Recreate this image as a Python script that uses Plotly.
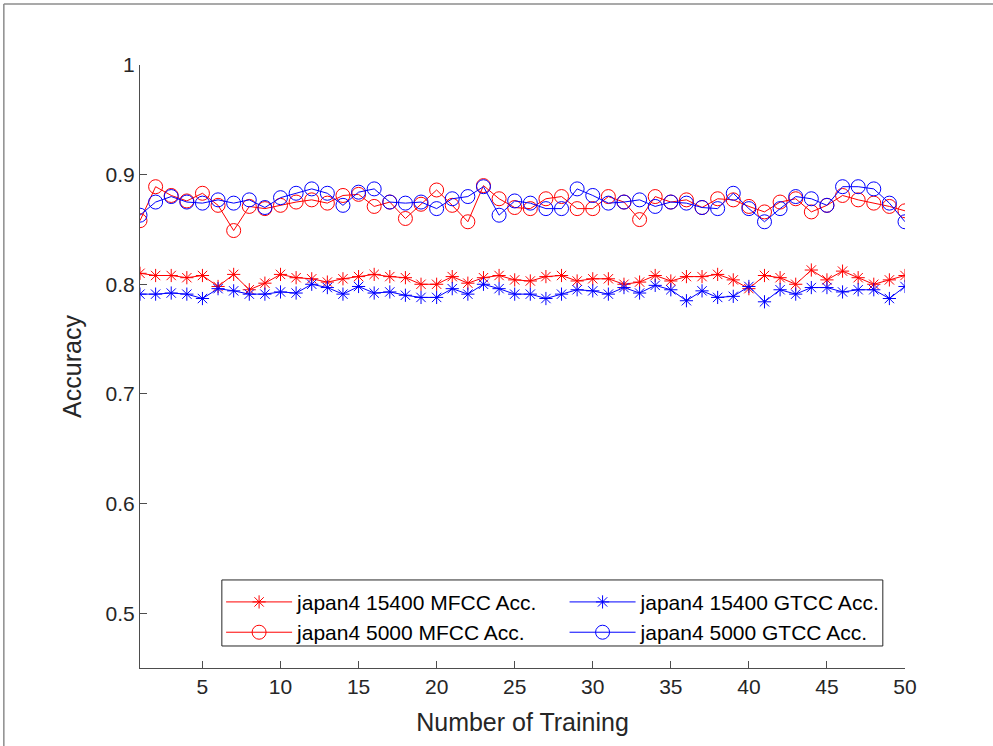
import plotly.graph_objects as go

# Training run index
runs = list(range(1, 51))

# Accuracy per training run
mfcc_15400 = [0.810, 0.808, 0.808, 0.806, 0.808, 0.798, 0.809, 0.795, 0.801, 0.809,
              0.806, 0.805, 0.802, 0.805, 0.807, 0.809, 0.807, 0.806, 0.800, 0.800,
              0.807, 0.801, 0.806, 0.808, 0.804, 0.803, 0.807, 0.808, 0.803, 0.805,
              0.805, 0.800, 0.802, 0.808, 0.803, 0.807, 0.807, 0.809, 0.804, 0.796,
              0.808, 0.806, 0.800, 0.813, 0.804, 0.812, 0.806, 0.800, 0.804, 0.808]
gtcc_15400 = [0.791, 0.791, 0.792, 0.791, 0.787, 0.796, 0.794, 0.791, 0.791, 0.793,
              0.792, 0.800, 0.797, 0.791, 0.798, 0.792, 0.793, 0.790, 0.788, 0.788,
              0.796, 0.791, 0.800, 0.796, 0.791, 0.791, 0.787, 0.791, 0.795, 0.794,
              0.791, 0.797, 0.792, 0.799, 0.795, 0.785, 0.794, 0.788, 0.789, 0.798,
              0.784, 0.795, 0.791, 0.797, 0.797, 0.793, 0.795, 0.795, 0.787, 0.798]
mfcc_5000 = [0.858, 0.889, 0.881, 0.876, 0.883, 0.872, 0.849, 0.871, 0.869, 0.872,
             0.875, 0.877, 0.874, 0.881, 0.882, 0.871, 0.875, 0.860, 0.873, 0.886,
             0.872, 0.857, 0.890, 0.878, 0.870, 0.869, 0.878, 0.880, 0.869, 0.869,
             0.880, 0.875, 0.859, 0.880, 0.875, 0.877, 0.870, 0.878, 0.877, 0.871,
             0.866, 0.875, 0.878, 0.866, 0.872, 0.881, 0.877, 0.874, 0.871, 0.867]
gtcc_5000 = [0.863, 0.875, 0.880, 0.875, 0.874, 0.877, 0.874, 0.877, 0.870, 0.879,
             0.883, 0.887, 0.883, 0.872, 0.884, 0.887, 0.875, 0.874, 0.875, 0.869,
             0.878, 0.880, 0.889, 0.863, 0.876, 0.874, 0.869, 0.869, 0.887, 0.881,
             0.874, 0.875, 0.877, 0.871, 0.875, 0.874, 0.870, 0.869, 0.883, 0.869,
             0.857, 0.869, 0.880, 0.878, 0.872, 0.889, 0.889, 0.887, 0.874, 0.857]

x_ticks = [5, 10, 15, 20, 25, 30, 35, 40, 45, 50]
y_ticks = [0.5, 0.6, 0.7, 0.8, 0.9, 1.0]
y_tick_text = ["0.5", "0.6", "0.7", "0.8", "0.9", "1"]

RED = "#ff0000"
BLUE = "#0000ff"
FONT = "Liberation Sans, Arial, sans-serif"

# (label, values, colour, marker, marker size, legend column)
series = [
    ("japan4 15400 MFCC Acc.", mfcc_15400, RED, "asterisk-open", 11, "legend"),
    ("japan4 5000 MFCC Acc.", mfcc_5000, RED, "circle-open", 14, "legend"),
    ("japan4 15400 GTCC Acc.", gtcc_15400, BLUE, "asterisk-open", 11, "legend2"),
    ("japan4 5000 GTCC Acc.", gtcc_5000, BLUE, "circle-open", 14, "legend2"),
]

fig = go.Figure()
for name, vals, color, symbol, size, leg in series:
    fig.add_trace(go.Scatter(
        x=runs, y=vals, name=name, mode="lines+markers",
        line=dict(color=color, width=1),
        marker=dict(symbol=symbol, size=size, color=color,
                    line=dict(color=color, width=1)),
        legend=leg,
    ))

legend_common = dict(
    orientation="v", yanchor="top", xanchor="left",
    bgcolor="rgba(0,0,0,0)", borderwidth=0,
    font=dict(family=FONT, size=21, color="#000000"),
    tracegroupgap=0, itemwidth=66,
)

axis_color = "#4d4d4d"
fig.update_layout(
    width=993, height=746,
    margin=dict(l=140, r=88, t=65, b=78),
    paper_bgcolor="white", plot_bgcolor="white",
    font=dict(family=FONT, size=21, color="#262626"),
    showlegend=True,
    legend=dict(x=0.106, y=0.143, **legend_common),
    legend2=dict(x=0.555, y=0.143, **legend_common),
    xaxis=dict(
        range=[1, 50], tickvals=x_ticks, ticks="inside", ticklen=7,
        tickcolor=axis_color, showline=True, linecolor=axis_color, linewidth=1,
        showgrid=False, zeroline=False, mirror=False,
        title=dict(text="Number of Training", font=dict(size=25), standoff=16),
        tickfont=dict(size=21),
    ),
    yaxis=dict(
        range=[0.45, 1.0], tickvals=y_ticks, ticktext=y_tick_text,
        ticks="inside", ticklen=7,
        tickcolor=axis_color, showline=True, linecolor=axis_color, linewidth=1,
        showgrid=False, zeroline=False, mirror=False,
        title=dict(text="Accuracy", font=dict(size=25), standoff=16),
        tickfont=dict(size=21),
    ),
)

# Legend frame
fig.add_shape(type="rect", xref="paper", yref="paper",
              x0=0.107, x1=0.971, y0=0.0365, y1=0.146,
              line=dict(color="#262626", width=1), fillcolor="white",
              layer="below")

# Window frame along the top and left edges
fig.add_shape(type="line", xref="paper", yref="paper",
              x0=-0.178, x1=1.2, y0=1.101, y1=1.101,
              line=dict(color="#8c8c8c", width=1.5))
fig.add_shape(type="line", xref="paper", yref="paper",
              x0=-0.178, x1=-0.178, y0=1.101, y1=-0.2,
              line=dict(color="#8c8c8c", width=1.5))

fig.write_html("out.html")
